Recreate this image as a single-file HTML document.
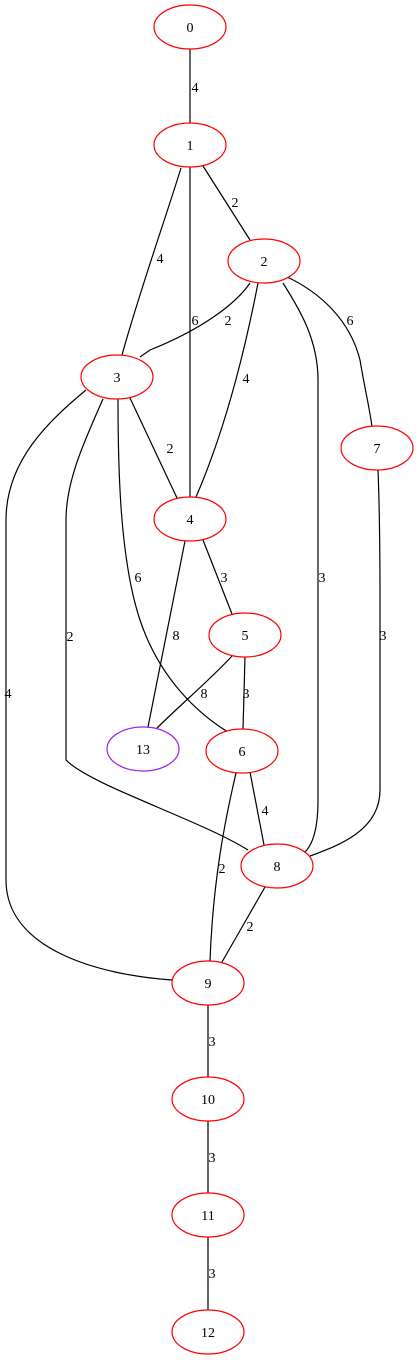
<!DOCTYPE html>
<html><head><meta charset="utf-8"><style>
html,body{margin:0;padding:0;background:#fff;}
svg{display:block;}
text{font-family:"Liberation Serif",serif;font-size:14px;fill:#000;}
</style></head><body>
<svg id="g" width="419" height="1363" viewBox="0 0 419 1363"></svg>
<script>
// Node data: id, center x, center y, color
const nodeIds = ["0","1","2","3","7","4","5","13","6","8","9","10","11","12"];
const nodeX = [190,190,264,117,377,190,245,143,242,277,208,208,208,208];
const nodeY = [27,145,261,377,448,519,635,749,751,866,983,1099,1215,1332];
const nodeColors = ["red","red","red","red","red","red","red","#a020f0","red","red","red","red","red","red"];
// Edge data: from, to, weight, label position, path
const edgeFrom = ["0","1","1","1","2","2","2","2","3","3","3","3","4","4","5","5","6","6","8","9","10","11","7"];
const edgeTo   = ["1","2","3","4","3","4","7","8","4","6","8","9","5","13","13","6","8","9","9","10","11","12","8"];
const edgeWeights = ["4","2","4","6","2","4","6","3","2","6","2","4","3","8","8","3","4","2","2","3","3","3","3"];
const labelPos = [[195,87],[235,202],[160,258],[195,320],[228,320],[246,378],[350,320],[322,577],[170,448],[138,577],[70,636],[8,693],[224,577],[176,635],[204,693],[246,693],[265,810],[222,868],[250,926],[212,1041],[212,1157],[212,1273],[383,635]];
const edgePaths = [
 "M190,49 L190,123",
 "M203,166 L250,240",
 "M181,168 C165,220 140,290 122,355",
 "M190,167 L190,497",
 "M250,283 C235,305 200,330 150,350 L140,357",
 "M258,283 C245,350 225,430 196,497",
 "M285,276 C320,292 350,320 360,360 C365,390 370,410 372,427",
 "M283,283 C300,310 318,340 318,380 L318,800 C318,830 312,845 305,852",
 "M130,398 L177,498",
 "M118,399 C118,470 120,560 140,620 C160,680 200,715 228,732",
 "M103,399 C85,440 66,480 66,520 L66,760 C90,785 200,820 248,850",
 "M86,390 C50,420 6,460 6,520 L6,880 C6,950 100,975 172,980",
 "M203,540 L232,614",
 "M185,541 L148,727",
 "M233,655 C210,680 180,705 155,730",
 "M245,657 L243,729",
 "M250,772 L264,845",
 "M236,773 C225,820 213,880 210,961",
 "M265,887 L222,962",
 "M208,1005 L208,1077",
 "M208,1121 L208,1193",
 "M208,1237 L208,1310",
 "M378,470 C380,520 380,560 380,600 L380,790 C380,830 340,845 310,856"
];
const NS="http://www.w3.org/2000/svg";
const svg=document.getElementById('g');
for(let i=0;i<edgeFrom.length;i++){
  const p=document.createElementNS(NS,'path');
  p.setAttribute('d',edgePaths[i]);
  p.setAttribute('fill','none');p.setAttribute('stroke','#000');p.setAttribute('stroke-width','1.2');
  
  
  svg.appendChild(p);
  const t=document.createElementNS(NS,'text');
  t.setAttribute('x',labelPos[i][0]);t.setAttribute('y',labelPos[i][1]+5);
  t.setAttribute('text-anchor','middle');
  t.textContent=edgeWeights[i];
  
  
  svg.appendChild(t);
}
for(let i=0;i<nodeIds.length;i++){
  const g=document.createElementNS(NS,'g');
  
  
  const e=document.createElementNS(NS,'ellipse');
  e.setAttribute('cx',nodeX[i]);e.setAttribute('cy',nodeY[i]);e.setAttribute('rx',36);e.setAttribute('ry',22);
  e.setAttribute('fill','#fff');e.setAttribute('stroke',nodeColors[i]);e.setAttribute('stroke-width','1.2');
  g.appendChild(e);
  const t=document.createElementNS(NS,'text');
  t.setAttribute('x',nodeX[i]);t.setAttribute('y',nodeY[i]+5);t.setAttribute('text-anchor','middle');
  t.textContent=nodeIds[i];
  g.appendChild(t);
  svg.appendChild(g);
}
</script>
</body></html>
